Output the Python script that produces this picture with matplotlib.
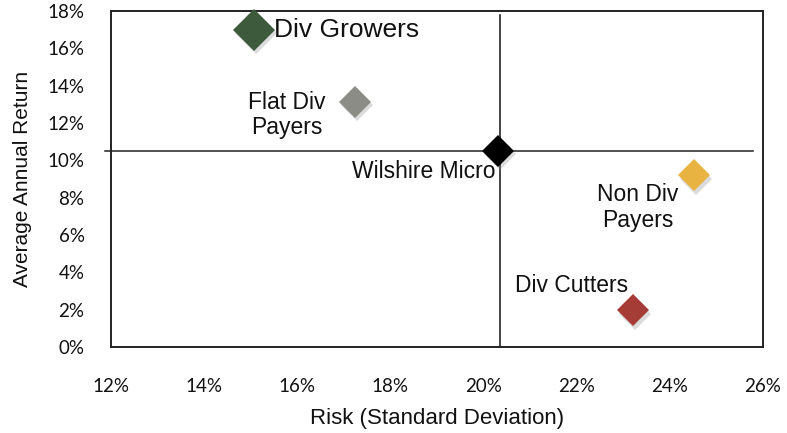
import matplotlib
matplotlib.use("Agg")
import matplotlib.pyplot as plt
import matplotlib.patheffects as pe
from matplotlib.ticker import FuncFormatter

# data (risk %, return %)
names = ["Div Growers", "Flat Div\nPayers", "Wilshire Micro", "Non Div\nPayers", "Div Cutters"]
risk = [15.07, 17.24, 20.31, 24.51, 23.21]
ret = [17.0, 13.13, 10.5, 9.21, 1.98]
colors = ["#3d5a3c", "#8c8c86", "#000000", "#e8b340", "#a63c36"]

# crosshair through the benchmark
bench_x_range = [11.88, 25.78]
bench_y_range = [0.0, 17.8]

x_ticks = [12, 14, 16, 18, 20, 22, 24, 26]
y_ticks = [0, 2, 4, 6, 8, 10, 12, 14, 16, 18]

fig = plt.figure(figsize=(7.87, 4.33), dpi=100)
ax = fig.add_axes([0.141, 0.1986, 0.8285, 0.776])

ax.plot(bench_x_range, [ret[2], ret[2]], color="#222222", lw=1.1, zorder=2,
        clip_on=False)
ax.plot([risk[2] + 0.04, risk[2] + 0.04], bench_y_range, color="#111111", lw=1.1,
        zorder=2, clip_on=False)

shadow = [pe.SimplePatchShadow(offset=(1.5, -2.5), shadow_rgbFace="#888888", alpha=0.3),
          pe.Normal()]
sizes = [21.4, 16.3, 16.3, 16.3, 16.3]
for x, y, c, s in zip(risk, ret, colors, sizes):
    ax.plot([x], [y], marker="D", ms=s, color=c, mec="none", ls="none",
            zorder=4, clip_on=False, path_effects=shadow)

label_font = dict(family="Liberation Sans", color="#111111")
ax.annotate(names[0], (risk[0], ret[0]), xytext=(14.4, 0), textcoords="offset points",
            ha="left", va="center", fontsize=19, **label_font)
ax.annotate(names[1], (risk[1], ret[1]), xytext=(-49, -9.5), textcoords="offset points",
            ha="center", va="center", fontsize=16.5, linespacing=1.15, **label_font)
ax.annotate(names[2], (risk[2], ret[2]), xytext=(-2, -15), textcoords="offset points",
            ha="right", va="center", fontsize=16.5, **label_font)
ax.annotate(names[3], (risk[3], ret[3]), xytext=(-40, -23.5), textcoords="offset points",
            ha="center", va="center", fontsize=16.5, linespacing=1.15, **label_font)
ax.annotate(names[4], (risk[4], ret[4]), xytext=(-3.5, 18), textcoords="offset points",
            ha="right", va="center", fontsize=16.5, **label_font)

ax.set_xlim(12, 26)
ax.set_ylim(0, 18)
ax.set_xticks(x_ticks)
ax.set_yticks(y_ticks)
pct = FuncFormatter(lambda v, p: f"{v:.0f}%")
ax.xaxis.set_major_formatter(pct)
ax.yaxis.set_major_formatter(pct)
ax.tick_params(length=0, labelsize=13.5, colors="#111111", pad=0)
ax.tick_params(axis="x", pad=22)
ax.tick_params(axis="y", pad=19)
for lab in ax.get_xticklabels() + ax.get_yticklabels():
    lab.set_family("Lato")

for sp in ax.spines.values():
    sp.set_color("#222222")
    sp.set_linewidth(1.4)

ax.set_xlabel("Risk (Standard Deviation)", fontsize=16, family="Liberation Sans",
              color="#111111", labelpad=10)
ax.set_ylabel("Average Annual Return", fontsize=15, family="Liberation Sans",
              color="#111111", labelpad=11)

fig.savefig("out.png", dpi=100)
